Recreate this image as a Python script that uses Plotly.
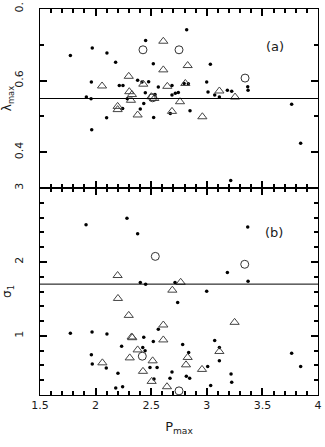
import plotly.graph_objects as go

# ---------------- data ----------------
a_dot_p = [1.773, 1.970, 2.102, 2.180, 1.962, 1.917, 1.959, 1.965, 2.099, 2.213,
           2.246, 2.243, 2.378, 2.450, 2.519, 2.417, 2.477, 2.447, 2.433, 2.402,
           2.522, 2.564, 2.534, 2.687, 2.717, 2.744, 2.687, 2.672, 2.796, 2.834,
           2.819, 3.032, 2.999, 3.011, 3.071, 3.113, 3.185, 3.224, 3.368, 3.371,
           2.849, 3.215, 3.763, 3.844, 2.285]
a_dot_l = [0.670, 0.691, 0.677, 0.651, 0.596, 0.554, 0.549, 0.463, 0.496, 0.586,
           0.586, 0.522, 0.601, 0.712, 0.647, 0.596, 0.597, 0.566, 0.536, 0.521,
           0.497, 0.582, 0.561, 0.560, 0.565, 0.567, 0.586, 0.508, 0.592, 0.591,
           0.742, 0.646, 0.596, 0.568, 0.560, 0.554, 0.573, 0.570, 0.583, 0.573,
           0.516, 0.321, 0.534, 0.425, 0.549]
a_tri_p = [2.058, 2.298, 2.609, 2.609, 2.429, 2.645, 2.303, 2.327, 2.318, 2.198,
           2.198, 2.378, 2.501, 2.528, 2.687, 2.759, 2.828, 2.807, 2.960, 3.113, 3.254]
a_tri_l = [0.585, 0.612, 0.710, 0.630, 0.590, 0.584, 0.569, 0.561, 0.545, 0.528,
           0.519, 0.504, 0.555, 0.550, 0.514, 0.541, 0.642, 0.592, 0.499, 0.571, 0.554]
a_circ_p = [2.426, 2.750, 3.344, 2.513]
a_circ_l = [0.686, 0.686, 0.607, 0.552]
a_mean = 0.55

b_dot_p = [1.914, 2.282, 2.378, 2.402, 2.450, 2.714, 2.738, 1.773, 1.968, 2.102,
           1.962, 1.970, 2.096, 2.201, 2.234, 2.181, 2.243, 2.433, 2.424, 2.445,
           2.519, 2.564, 2.489, 2.553, 2.525, 2.687, 2.669, 3.368, 3.185, 3.371,
           2.999, 2.783, 2.837, 3.071, 3.113, 3.113, 3.008, 2.816, 2.846, 3.035,
           3.218, 3.224, 3.763, 3.844]
b_dot_s = [2.502, 2.592, 2.381, 1.721, 1.699, 1.721, 1.452, 1.035, 1.052, 1.026,
           0.743, 0.618, 0.564, 0.493, 0.860, 0.295, 0.312, 0.981, 0.843, 0.797,
           0.923, 1.089, 0.573, 0.573, 0.416, 0.510, 0.425, 2.471, 1.856, 1.739,
           1.605, 0.883, 0.775, 0.937, 0.843, 0.662, 0.587, 0.452, 0.425, 0.327,
           0.483, 0.371, 0.766, 0.587]
b_tri_p = [2.198, 2.201, 2.298, 2.324, 2.330, 2.609, 2.609, 2.061, 2.307, 2.378,
           2.513, 2.426, 2.504, 2.642, 2.690, 2.765, 3.250, 3.113, 2.828, 2.813, 2.957]
b_tri_s = [1.816, 1.506, 1.277, 0.985, 0.975, 1.147, 0.945, 0.635, 0.702, 0.810,
           0.662, 0.520, 0.384, 0.312, 1.618, 1.725, 1.183, 0.789, 0.708, 0.608, 0.546]
b_circ_p = [2.537, 2.420, 2.750, 3.341]
b_circ_s = [2.075, 0.725, 0.256, 1.968]
b_mean = 1.7

a_ticks = [0.4, 0.6, 0.8]
a_ticktext = ["0.4", "0.6", "0."]

FONT = "DejaVu Sans"
INK = "#1a1a1a"
TW = 2
dot_style = dict(symbol="circle", size=3.5, color="black")
tri_style = dict(symbol="triangle-up-open", size=8, color="#444", line=dict(width=1, color="#444"))
circ_style = dict(symbol="circle-open", size=8, color="#333", line=dict(width=1, color="#333"))

fig = go.Figure()
for (xp, yp, st) in [(a_dot_p, a_dot_l, dot_style), (a_tri_p, a_tri_l, tri_style),
                     (a_circ_p, a_circ_l, circ_style)]:
    fig.add_trace(go.Scatter(x=xp, y=yp, mode="markers", marker=st,
                             xaxis="x2", yaxis="y2", showlegend=False, hoverinfo="skip"))
for (xp, yp, st) in [(b_dot_p, b_dot_s, dot_style), (b_tri_p, b_tri_s, tri_style),
                     (b_circ_p, b_circ_s, circ_style)]:
    fig.add_trace(go.Scatter(x=xp, y=yp, mode="markers", marker=st,
                             xaxis="x", yaxis="y", showlegend=False, hoverinfo="skip"))

split = 207 / 386
base = dict(showgrid=False, showline=True, linecolor="black",
            ticks="inside", ticklen=7, tickcolor="black", tickwidth=TW, automargin=False,
            mirror="ticks", tickfont=dict(family=FONT, size=11, color=INK))
minor_x = dict(ticks="inside", ticklen=4, dtick=0.1, tickcolor="black", tickwidth=TW)
fig.update_layout(
    width=325, height=447,
    margin=dict(l=40, r=7, t=9, b=52),
    paper_bgcolor="white", plot_bgcolor="white",
    xaxis=dict(**base, range=[1.5, 4], domain=[0, 1], anchor="y",
               tickmode="linear", tick0=1.5, dtick=0.5, minor=minor_x,
               title=dict(text="P<sub>max</sub>", font=dict(family=FONT, size=13, color=INK), standoff=10)),
    yaxis=dict(**base, range=[0.2, 3.0], domain=[0, split], anchor="x",
               tickmode="linear", tick0=1, dtick=1, tickangle=-90, ticklabelstandoff=12,
               minor=dict(ticks="inside", ticklen=4, dtick=0.2, tickcolor="black", tickwidth=TW),
               title=dict(text="σ<sub>1</sub>", font=dict(family=FONT, size=12, color=INK), standoff=0)),
    xaxis2=dict(**base, range=[1.5, 4], domain=[0, 1], anchor="y2",
                tickmode="linear", tick0=1.5, dtick=0.5, showticklabels=False, minor=minor_x),
    yaxis2=dict(**base, range=[0.3, 0.8], domain=[split, 1], anchor="x2",
                tickmode="array", tickvals=a_ticks, ticktext=a_ticktext, tickangle=-90,
                ticklabelstandoff=12,
                minor=dict(ticks="inside", ticklen=4, dtick=0.1, tickcolor="black", tickwidth=TW),
                title=dict(text="λ<sub>max</sub>", font=dict(family=FONT, size=12, color=INK), standoff=0)),
    shapes=[
        dict(type="line", xref="x2 domain", yref="y2", x0=0, x1=1, y0=a_mean, y1=a_mean,
             line=dict(color="black", width=1)),
        dict(type="line", xref="x domain", yref="y", x0=0, x1=1, y0=b_mean, y1=b_mean,
             line=dict(color="black", width=1)),
    ],
    annotations=[
        dict(text="(a)", xref="x2 domain", yref="y2 domain", x=0.885, y=0.845, showarrow=False,
             font=dict(family=FONT, size=13, color=INK)),
        dict(text="(b)", xref="x domain", yref="y domain", x=0.88, y=0.83, showarrow=False,
             font=dict(family=FONT, size=13, color=INK)),
    ],
)
fig.write_html("out.html", config={"displayModeBar": False},
               post_script="document.body.style.margin='0';document.body.style.overflow='hidden';")
